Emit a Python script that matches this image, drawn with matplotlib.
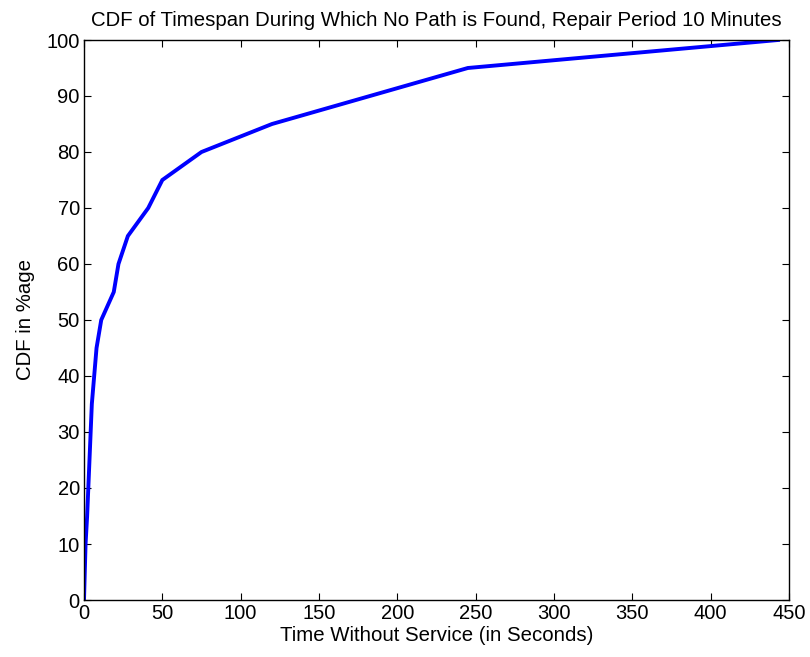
import matplotlib
matplotlib.use("Agg")
import matplotlib.pyplot as plt

# Time without service (seconds) and cumulative share (%)
time_s = [0, 1, 2, 5, 8, 11, 19, 22, 28, 41, 50, 75, 120, 245, 443]
cdf_pct = [0, 10, 15, 35, 45, 50, 55, 60, 65, 70, 75, 80, 85, 95, 100]

x_ticks = [0, 50, 100, 150, 200, 250, 300, 350, 400, 450]
y_ticks = [0, 10, 20, 30, 40, 50, 60, 70, 80, 90, 100]

plt.rcParams["font.family"] = ["Liberation Sans", "DejaVu Sans"]

fig = plt.figure(figsize=(8.10, 6.57), dpi=100)
ax = fig.add_axes([84 / 810, 1 - 600 / 657, 705 / 810, 560 / 657])

ax.plot(time_s, cdf_pct, color=(0, 0, 1), linewidth=2.8, solid_joinstyle="miter")

ax.set_xlim(0, 450)
ax.set_ylim(0, 100)
ax.set_xticks(x_ticks)
ax.set_yticks(y_ticks)
ax.tick_params(direction="in", length=5, width=0.8, top=True, right=True,
               labelsize=14.5, pad=3)
for s in ax.spines.values():
    s.set_linewidth(1.0)

ax.set_title("CDF of Timespan During Which No Path is Found, Repair Period 10 Minutes",
             fontsize=14.7, pad=10)
ax.set_xlabel("Time Without Service (in Seconds)", fontsize=14.7, labelpad=2)
ax.set_ylabel("CDF in %age", fontsize=14.7, labelpad=8)

fig.savefig("out.png", dpi=100)
